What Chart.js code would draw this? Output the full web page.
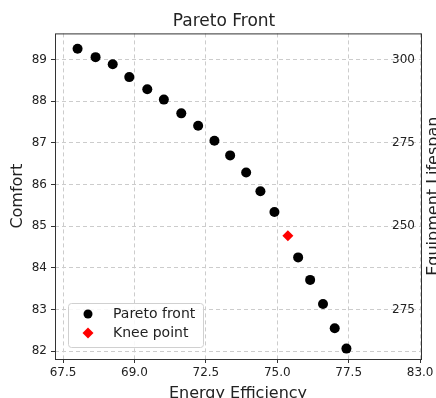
<!DOCTYPE html>
<html>
<head>
<meta charset="utf-8">
<title>Pareto Front</title>
<script src="https://cdn.jsdelivr.net/npm/chart.js@4.4.1/dist/chart.umd.min.js"></script>
<style>
  html, body { margin: 0; padding: 0; overflow: hidden; background: #fff; }
  #wrap { position: absolute; left: 0; top: 0; }
</style>
</head>
<body>
<div id="wrap"><canvas id="paretoChart" width="448" height="410"></canvas></div>
<script>
// values
const energyEfficiency = [68.01, 68.64, 69.24, 69.82, 70.45, 71.03, 71.64, 72.23, 72.80, 73.35,
                          73.91, 74.41, 74.90, 75.73, 76.15, 76.60, 77.01, 77.42];
const comfort = [89.26, 89.06, 88.89, 88.58, 88.29, 88.04, 87.71, 87.41, 87.05, 86.70,
                 86.29, 85.84, 85.34, 84.25, 83.71, 83.13, 82.55, 82.06];
const kneeEnergy = [75.37];
const kneeComfort = [84.77];

const xTickValues = [67.5, 70, 72.5, 75, 77.5, 80];
const xTickLabels = ['67.5', '69.0', '72.5', '75.0', '77.5', '83.0'];
const comfortTickValues = [82, 83, 84, 85, 86, 87, 88, 89];
const lifespanTickValues = [89, 87, 85, 83];
const lifespanTickLabels = ['300', '275', '250', '275'];

Chart.defaults.font.family = "'DejaVu Sans', sans-serif";
Chart.defaults.color = '#222';

const dashedGrid = {
    color: '#cccccc',
    tickColor: '#333',
    tickLength: 4,
    tickBorderDash: []
};

// frame, right axis title and the in-plot legend
const extras = {
    id: 'extras',
    afterDraw(chart) {
        const { ctx, chartArea: a } = chart;
        ctx.save();
        ctx.strokeStyle = '#333';
        ctx.lineWidth = 1;
        ctx.strokeRect(a.left + 0.5, a.top + 0.5, a.right - a.left, a.bottom - a.top);

        ctx.translate(438, (a.top + a.bottom) / 2);
        ctx.rotate(-Math.PI / 2);
        ctx.font = "16px 'DejaVu Sans'";
        ctx.fillStyle = '#222';
        ctx.textAlign = 'center';
        ctx.textBaseline = 'alphabetic';
        ctx.fillText('Equipment Lifespan', 0, 0);
        ctx.restore();

        const bx = a.left + 13, by = a.bottom - 56, bw = 135, bh = 44;
        ctx.save();
        ctx.beginPath();
        ctx.roundRect(bx + 0.5, by + 0.5, bw, bh, 3);
        ctx.fillStyle = 'rgba(255,255,255,0.85)';
        ctx.fill();
        ctx.strokeStyle = '#d0d0d0';
        ctx.stroke();
        ctx.font = "14px 'DejaVu Sans'";
        ctx.textBaseline = 'middle';
        ctx.textAlign = 'left';
        chart.data.datasets.forEach((ds, i) => {
            const y = by + 11 + i * 19;
            ctx.fillStyle = ds.backgroundColor;
            ctx.strokeStyle = ds.backgroundColor;
            Chart.helpers.drawPoint(ctx, {
                pointStyle: ds.pointStyle,
                radius: ds.pointStyle === 'rectRot' ? 5.5 : 4.5,
                rotation: 0,
                borderWidth: 0
            }, bx + 20, y);
            ctx.fillStyle = '#222';
            ctx.fillText(ds.label, bx + 45, y);
        });
        ctx.restore();
    }
};

const ctx = document.getElementById('paretoChart').getContext('2d');
const paretoChart = new Chart(ctx, {
    type: 'scatter',
    data: {
        datasets: [{
            label: 'Pareto front',
            data: energyEfficiency.map((x, i) => ({ x: x, y: comfort[i] })),
            backgroundColor: '#000000',
            borderColor: '#000000',
            pointStyle: 'circle',
            pointRadius: 5,
            pointBorderWidth: 0,
            pointHoverRadius: 5
        }, {
            label: 'Knee point',
            data: kneeEnergy.map((x, i) => ({ x: x, y: kneeComfort[i] })),
            backgroundColor: '#ff0000',
            borderColor: '#ff0000',
            pointStyle: 'rectRot',
            pointRadius: 5.5,
            pointBorderWidth: 0,
            pointHoverRadius: 5.5
        }]
    },
    options: {
        responsive: false,
        animation: false,
        layout: { padding: 0 },
        plugins: {
            legend: { display: false },
            tooltip: { enabled: false },
            title: {
                display: true,
                text: 'Pareto Front',
                color: '#222',
                font: { size: 17, weight: 'normal' },
                padding: { top: 11, bottom: 2 }
            }
        },
        scales: {
            x: {
                type: 'linear',
                min: 67.22,
                max: 80.03,
                afterBuildTicks: (scale) => { scale.ticks = xTickValues.map(v => ({ value: v })); },
                afterFit: (scale) => { scale.height = 51; },
                ticks: {
                    font: { size: 12 },
                    padding: 3,
                    maxRotation: 0,
                    callback: (value) => xTickLabels[xTickValues.indexOf(value)]
                },
                grid: dashedGrid,
                border: { display: false, dash: [4, 3] },
                title: {
                    display: true,
                    text: 'Energy Efficiency',
                    font: { size: 16 },
                    padding: { top: 0, bottom: 7 }
                }
            },
            y: {
                type: 'linear',
                position: 'left',
                min: 81.81,
                max: 89.63,
                afterBuildTicks: (scale) => { scale.ticks = comfortTickValues.map(v => ({ value: v })); },
                afterFit: (scale) => { scale.width = 55; },
                ticks: {
                    font: { size: 12 },
                    padding: 4,
                    callback: (value) => String(value)
                },
                grid: dashedGrid,
                border: { display: false, dash: [4, 3] },
                title: {
                    display: true,
                    text: 'Comfort',
                    font: { size: 16 },
                    padding: { top: 8, bottom: 0 }
                }
            },
            y2: {
                type: 'linear',
                position: 'right',
                min: 81.81,
                max: 89.63,
                afterBuildTicks: (scale) => { scale.ticks = lifespanTickValues.map(v => ({ value: v })); },
                afterFit: (scale) => { scale.width = 27; },
                ticks: {
                    mirror: true,
                    font: { size: 12 },
                    padding: -6,
                    callback: (value) => lifespanTickLabels[lifespanTickValues.indexOf(value)]
                },
                grid: { drawOnChartArea: false, drawTicks: false },
                border: { display: false }
            }
        }
    },
    plugins: [extras]
});
</script>
</body>
</html>
